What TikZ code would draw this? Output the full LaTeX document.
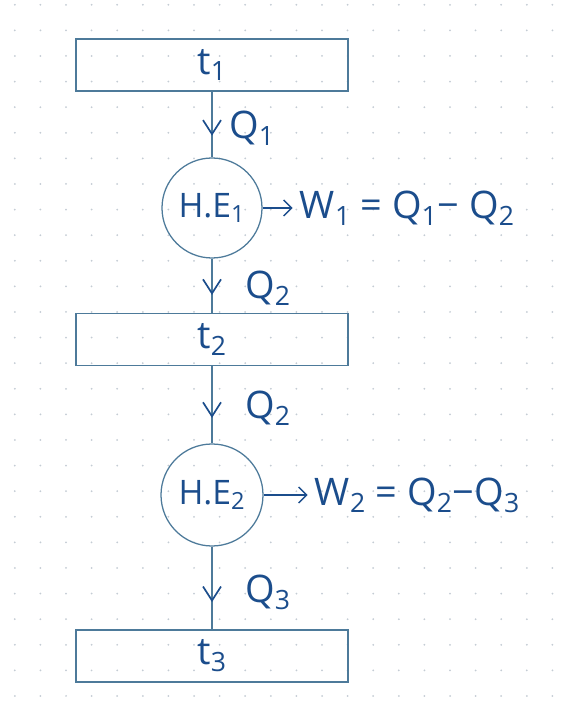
\documentclass[tikz,border=0pt]{standalone}
\usepackage{fontspec}
\setmainfont{Open Sans}
\usetikzlibrary{arrows.meta, decorations.markings, positioning}
\definecolor{inkblue}{HTML}{1B4D8C}
\definecolor{penline}{HTML}{4D7A9A}
\definecolor{dotgray}{HTML}{C4CCD4}
\tikzset{
  reservoir/.style={draw=penline, line width=0.9pt, minimum width=6.8cm,
    minimum height=1.3cm, inner sep=0pt},
  engine/.style={circle, draw=penline, line width=0.9pt, minimum size=2.5cm,
    inner sep=0pt},
  hand/.style={font=\fontsize{27}{29}\selectfont, text=inkblue},
  heatflow/.style={draw=penline, line width=0.9pt, postaction={decorate},
    decoration={markings, mark=at position 0.67 with
      {\arrow[inkblue, line width=1.2pt]{Straight Barb[length=0.35cm, width=0.45cm]}}}},
  workflow/.style={draw=inkblue, line width=1pt,
    -{Straight Barb[length=0.2cm, width=0.4cm]}}
}

\begin{document}
\begin{tikzpicture}
  \fill[white] (0,0) rectangle (14.225,17.925);
  \useasboundingbox (0,0) rectangle (14.225,17.925);

  % dotted notebook paper
  \foreach \i in {0,...,21}
    \foreach \j in {0,...,27}
      \fill[dotgray] (0.37+0.64*\i, 17.805-0.64*\j) circle (0.025);

  % Reservoirs
  \node[reservoir, hand] (t1) at (5.3,16.3) {t\textsubscript{1}};
  \node[reservoir, hand] (t2) at (5.3,9.44) {t\textsubscript{2}};
  \node[reservoir, hand] (t3) at (5.3,1.525) {t\textsubscript{3}};

  % Heat engines
  \node[engine, hand, font=\fontsize{24}{26}\selectfont] (he1) at (5.3,12.725) {H.E\textsubscript{1}};
  \node[engine, hand, font=\fontsize{24}{26}\selectfont, minimum size=2.55cm] (he2) at (5.3,5.55) {H.E\textsubscript{2}};

  % Work output
  \node[hand, right=0.75cm of he1, inner sep=5pt] (w1)
    {W\textsubscript{1} = Q\textsubscript{1}− Q\textsubscript{2}};
  \node[hand, right=1.1cm of he2, inner sep=5pt] (w2)
    {W\textsubscript{2} = Q\textsubscript{2}−Q\textsubscript{3}};
  \draw[workflow] (he1) -- (w1);
  \draw[workflow] (he2) -- (w2);

  % Heat flows
  \draw[heatflow] (t1) -- node[hand, pos=0.55, right=0.3cm] (q1) {Q\textsubscript{1}} (he1);
  \draw[heatflow] (he1) -- node[hand, pos=0.55, right=0.7cm] (q2) {Q\textsubscript{2}} (t2);
  \draw[heatflow] (t2) -- node[hand, pos=0.55, right=0.7cm] (q2b) {Q\textsubscript{2}} (he2);
  \draw[heatflow] (he2) -- node[hand, pos=0.55, right=0.7cm] (q3) {Q\textsubscript{3}} (t3);
\end{tikzpicture}
\end{document}
